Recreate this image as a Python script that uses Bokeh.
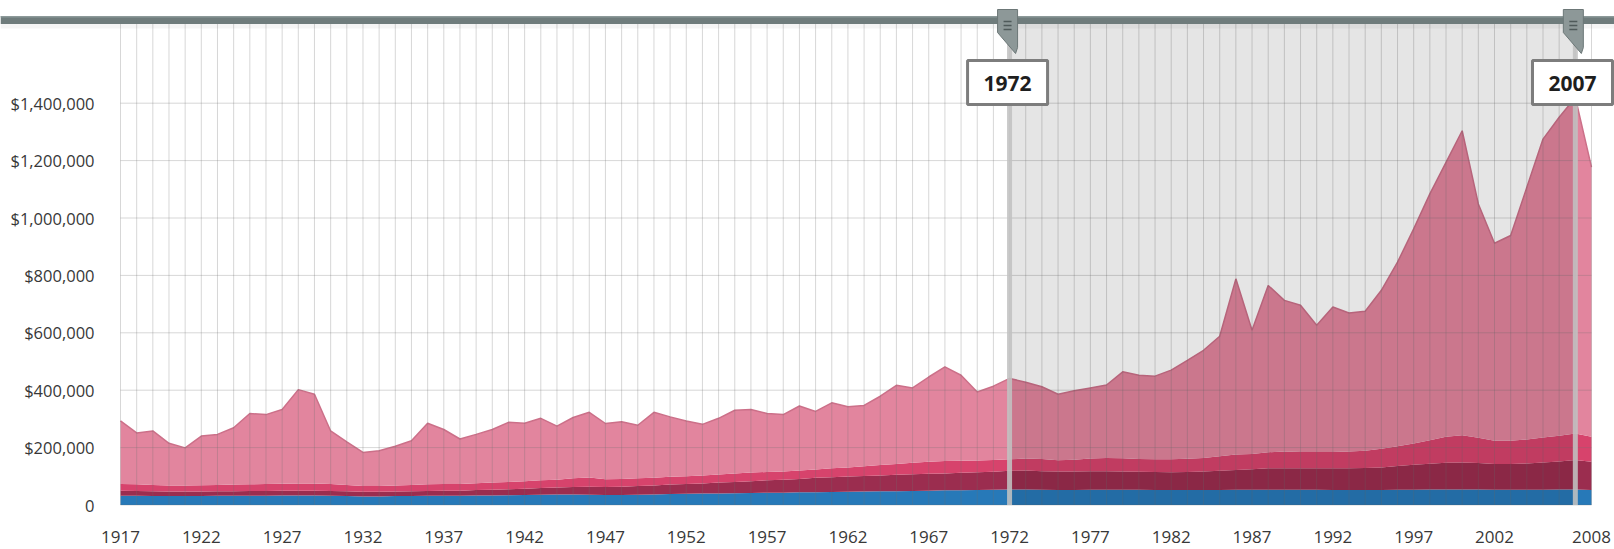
from bokeh.plotting import figure
from bokeh.models import Range1d, LinearAxis, FixedTicker
from bokeh.core.properties import value
from bokeh.embed import file_html
from bokeh.resources import INLINE

# ---------------- data (stacked levels, thousands of dollars) ----------------
UNIT = 1000
years = list(range(1917, 2009))

total_level = [
    293, 251, 258, 215, 199, 240, 246, 269, 319, 315, 333, 402, 386,
    258, 220, 183, 189, 205, 224, 285, 263, 230, 246,
    263, 288, 285, 302, 275, 305, 323, 284, 290, 278,
    323, 307, 293, 281, 302, 330, 333, 319, 315, 345,
    326, 356, 342, 347, 379, 417, 408, 446, 481, 452,
    394, 414, 441, 428, 412, 386, 398, 408, 418, 464,
    452, 449, 470, 504, 539, 588, 788, 609, 765, 713,
    696, 626, 690, 669, 675, 748, 846, 962, 1084, 1194,
    1304, 1049, 912, 939, 1107, 1275, 1351, 1420, 1177,
]
red_level = [
    73, 72, 70, 68, 68, 69, 70, 71, 72, 73, 74, 75, 75,
    73, 70, 66, 66, 68, 70, 72, 73, 73, 76,
    78, 80, 83, 86, 88, 93, 96, 90, 91, 93,
    95, 98, 100, 103, 106, 110, 113, 115, 117, 120,
    124, 128, 131, 135, 139, 143, 147, 151, 153, 154,
    155, 157, 159, 162, 160, 156, 158, 162, 164, 163,
    160, 159, 159, 161, 164, 170, 176, 178, 184, 186,
    185, 185, 185, 186, 189, 196, 205, 214, 226, 238,
    243, 234, 224, 224, 228, 235, 241, 249, 238,
]
maroon_level = [
    50, 49, 48, 47, 47, 47, 48, 48, 49, 49, 50, 50, 50,
    49, 48, 46, 46, 47, 48, 49, 50, 50, 52,
    53, 55, 57, 59, 61, 63, 64, 63, 64, 66,
    68, 71, 73, 75, 78, 80, 83, 86, 88, 91,
    95, 97, 99, 101, 103, 105, 107, 109, 110, 112,
    114, 116, 119, 120, 118, 117, 117, 118, 118, 117,
    116, 115, 114, 115, 117, 119, 122, 125, 128, 128,
    128, 128, 128, 128, 129, 131, 136, 140, 144, 147,
    148, 146, 143, 143, 145, 148, 152, 157, 151,
]
blue_level = [
    32, 32, 31, 31, 31, 31, 32, 32, 32, 32, 33, 33, 33,
    32, 31, 30, 30, 31, 31, 32, 32, 32, 33,
    33, 34, 35, 36, 37, 37, 36, 35, 35, 36,
    37, 38, 39, 40, 40, 41, 42, 43, 43, 44,
    44, 45, 46, 47, 48, 48, 49, 50, 51, 51,
    52, 53, 54, 54, 53, 52, 52, 53, 53, 53,
    53, 52, 52, 52, 52, 52, 53, 53, 53, 53,
    53, 53, 52, 52, 52, 52, 53, 53, 54, 54,
    54, 54, 53, 53, 53, 53, 54, 54, 52,
]

y_ticks = [0, 200000, 400000, 600000, 800000, 1000000, 1200000, 1400000]
y_tick_labels = ["0", "$200,000", "$400,000", "$600,000", "$800,000",
                 "$1,000,000", "$1,200,000", "$1,400,000"]
x_ticks = [1917, 1922, 1927, 1932, 1937, 1942, 1947, 1952, 1957, 1962,
           1967, 1972, 1977, 1982, 1987, 1992, 1997, 2002, 2008]
x_tick_labels = [str(t) for t in x_ticks]
selection = [1972, 2007]

# ---------------- layout helpers ----------------
W, H = 1614, 549
X0_PX = 120.0                  # figure-x of 1917
PPY = 1471.0 / 91.0            # px per year
Y0_PX = 504.5                  # figure-y of zero
PPV = 57.4 / 200000.0          # px per dollar

def fy(py):                    # figure pixel y -> data value
    return (Y0_PX - py) / PPV

def dx(px):                    # pixel width -> years
    return px / PPY

x_start = 1917 - X0_PX / PPY
x_end = 1917 + (W - X0_PX) / PPY
y_start = fy(H)
y_end = fy(0)

FONT = "Open Sans"

p = figure(width=W, height=H, output_backend="svg", toolbar_location=None,
           x_range=Range1d(x_start, x_end), y_range=Range1d(y_start, y_end),
           x_axis_location=None, y_axis_location=None, min_border=0)
p.outline_line_color = None
p.background_fill_color = "white"
p.border_fill_color = "white"
p.xgrid.visible = False
p.ygrid.visible = False

# ---------------- stacked areas ----------------
tot = [v * UNIT for v in total_level]
red = [v * UNIT for v in red_level]
mar = [v * UNIT for v in maroon_level]
blu = [v * UNIT for v in blue_level]
zero = [0] * len(years)

p.varea(x=years, y1=zero, y2=blu, fill_color="#2779b8")
p.varea(x=years, y1=blu, y2=mar, fill_color="#9b2d4f")
p.varea(x=years, y1=mar, y2=red, fill_color="#d7436c")
p.varea(x=years, y1=red, y2=tot, fill_color="#e2859e")
p.line(x=years, y=tot, line_color="#cc7089", line_width=1.5)

# ---------------- grid ----------------
grid_top = fy(23)
p.segment(x0=years, y0=[0] * len(years), x1=years, y1=[grid_top] * len(years),
          line_color="#707070", line_alpha=0.28, line_width=1)
p.segment(x0=[years[0]] * len(y_ticks), y0=y_ticks,
          x1=[years[-1]] * len(y_ticks), y1=y_ticks,
          line_color="#707070", line_alpha=0.28, line_width=1)

# ---------------- selection overlay ----------------
p.quad(left=[selection[0]], right=[selection[1]], bottom=[0], top=[grid_top],
       fill_color="black", fill_alpha=0.1, line_color=None)
p.segment(x0=selection, y0=[0, 0], x1=selection, y1=[grid_top, grid_top],
          line_color="#c2c2c2", line_alpha=0.88, line_width=5)

# ---------------- top bar ----------------
p.quad(left=[x_start], right=[x_end], bottom=[fy(23.5)], top=[fy(15.5)],
       fill_color="#6f7c7c", line_color=None)
p.quad(left=[x_start], right=[x_end], bottom=[fy(17)], top=[fy(15.5)],
       fill_color="#8c9999", line_color=None)
p.quad(left=[x_start], right=[x_end], bottom=[fy(28)], top=[fy(23.5)],
       fill_color="#000000", fill_alpha=0.04, line_color=None)

# ---------------- handles ----------------
tab_off = [(-12, 9), (8, 9), (8, 47), (6, 53), (-12, 32)]
xs, ys = [], []
for yr in selection:
    xs.append([yr + dx(ox) for ox, oy in tab_off])
    ys.append([fy(oy) for ox, oy in tab_off])
p.patches(xs=xs, ys=ys, fill_color="#8d9898", line_color="#6c7777", line_width=1)

gx0, gx1, gy0, gy1 = [], [], [], []
for yr in selection:
    for gy in (21, 25, 29):
        gx0.append(yr + dx(-6)); gx1.append(yr + dx(2))
        gy0.append(fy(gy)); gy1.append(fy(gy))
p.segment(x0=gx0, y0=gy0, x1=gx1, y1=gy1, line_color="#4f5a5a", line_width=1.5)

# ---------------- year boxes ----------------
bl, br, cx = [], [], []
for yr in selection:
    line_px = X0_PX + (yr - 1917) * PPY
    shift = min(0.0, (W - 2) - (line_px + 38))
    bl.append(yr + dx(-42 + shift))
    br.append(yr + dx(38 + shift))
    cx.append(yr + dx(-2 + shift))
p.quad(left=bl, right=br, bottom=[fy(104)] * 2, top=[fy(60)] * 2,
       fill_color="white", line_color="#7d7d7d", line_width=3)
p.text(x=cx, y=[fy(82.5)] * 2, text=[str(s) for s in selection],
       text_font=value(FONT), text_font_size="21px", text_font_style="bold",
       text_color="#1e1e1e", text_align="center", text_baseline="middle")

# ---------------- axes ----------------
yaxis = LinearAxis(fixed_location=1917, ticker=FixedTicker(ticks=y_ticks),
                   major_label_overrides={t: l for t, l in zip(y_ticks, y_tick_labels)})
yaxis.axis_line_color = None
yaxis.major_tick_line_color = None
yaxis.minor_tick_line_color = None
yaxis.major_label_standoff = 20
yaxis.major_label_text_font = FONT
yaxis.major_label_text_font_size = "16.5px"
yaxis.major_label_text_color = "#383838"
p.add_layout(yaxis, "left")

xaxis = LinearAxis(fixed_location=0, ticker=FixedTicker(ticks=x_ticks),
                   major_label_overrides={t: l for t, l in zip(x_ticks, x_tick_labels)})
xaxis.axis_line_color = None
xaxis.major_tick_line_color = None
xaxis.minor_tick_line_color = None
xaxis.major_label_standoff = 20
xaxis.major_label_text_font = FONT
xaxis.major_label_text_font_size = "17px"
xaxis.major_label_text_color = "#383838"
p.add_layout(xaxis, "below")

open("out.html", "w").write(file_html(p, INLINE))
